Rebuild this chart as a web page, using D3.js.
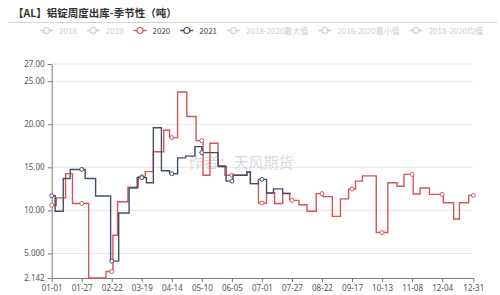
<!DOCTYPE html>
<html>
<head>
<meta charset="utf-8">
<script src="https://cdn.jsdelivr.net/npm/d3@7"></script>
<style>
    body { margin: 0; background: #fff; }
    svg { display: block; font-family: "Noto Sans CJK SC", "Noto Sans", sans-serif; }
</style>
</head>
<body>
<svg id="drawing_region"></svg>
<script>
// 凡例
const legendNames = ['2018', '2019', '2020', '2021', '2018-2020最大值', '2018-2020最小值', '2018-2020均值'];
const legendActive = ['2020', '2021'];

// y軸目盛り
const yTicks = [2.142, 5, 10, 15, 20, 25, 27];

// 2020年: 値が変わる日付とその値 (週次, ステップ)
const dates2020 = ['01-01', '01-05', '01-13', '01-19', '02-02', '02-17', '02-23', '02-27',
    '03-07', '03-16', '03-22', '03-29', '04-07', '04-12', '04-19', '04-27',
    '05-05', '05-11', '05-17', '05-24', '05-30', '06-18', '06-21', '06-28',
    '07-05', '07-12', '07-19', '07-25', '08-02', '08-09', '08-17', '08-23', '08-31',
    '09-07', '09-14', '09-20', '09-26', '10-08', '10-18', '10-26',
    '11-01', '11-09', '11-15', '11-23', '12-05', '12-14', '12-19', '12-27', '12-31'];
const values2020 = [10.6, 11.45, 14.27, 10.8, 2.142, 2.9, 7.1, 11.0,
    12.7, 13.9, 14.5, 16.8, 19.3, 18.45, 23.75, 20.9,
    18.1, 14.07, 17.8, 15.2, 14.07, 14.45, 13.1, 10.85,
    12.05, 10.8, 12.0, 11.16, 10.65, 9.9, 11.94, 11.6, 9.3,
    11.33, 12.47, 13.4, 14.0, 7.42, 13.2, 12.8,
    14.18, 11.9, 12.6, 11.86, 10.88, 9.0, 10.88, 11.74, 11.74];

// 2021年
const dates2021 = ['01-01', '01-04', '01-11', '01-17', '01-30', '02-08', '02-21', '02-28',
    '03-08', '03-15', '03-23', '03-29', '04-05', '04-12', '04-19', '04-26',
    '05-04', '05-10', '05-24', '05-31', '06-06', '06-18', '06-21', '06-28',
    '07-05', '07-11', '07-19', '07-26'];
const values2021 = [11.7, 9.9, 13.7, 14.75, 13.7, 11.66, 4.1, 9.7,
    12.6, 13.8, 13.2, 19.6, 14.6, 14.25, 16.1, 16.3,
    17.4, 16.7, 15.1, 13.4, 14.07, 14.45, 13.1, 13.6,
    12.0, 12.5, 11.94, 11.94];

const colors = {'2020': '#d65555', '2021': '#3f5166'};
const inactive = '#cccccc';

const width = 500, height = 295;
const svg = d3.select('#drawing_region').attr('width', width).attr('height', height);

// カテゴリ (閏年の日付 MM-DD)
const days = d3.timeDay.range(new Date(2020, 0, 1), new Date(2021, 0, 1)).map(d3.timeFormat('%m-%d'));

const xscale = d3.scalePoint().domain(days).range([51.7, 473.3]);
const yscale = d3.scaleLinear().domain([2.142, 27]).range([278, 64]);

// タイトル
svg.append('text')
    .attr('x', 13).attr('y', 17)
    .attr('font-size', 10.5).attr('font-weight', 'bold').attr('fill', '#333')
    .text('【AL】铝锭周度出库-季节性（吨）');
svg.append('line')
    .attr('x1', 8).attr('x2', 497).attr('y1', 22.5).attr('y2', 22.5)
    .attr('stroke', '#d4d4d4');

// 凡例
let lx = 40;
legendNames.forEach(name => {
    const on = legendActive.includes(name);
    const c = on ? colors[name] : inactive;
    const g = svg.append('g').attr('transform', `translate(${lx}, 30.5)`);
    g.append('line').attr('x1', 0).attr('x2', 13).attr('stroke', c).attr('stroke-width', 1.5);
    g.append('circle').attr('cx', 6.5).attr('r', 3).attr('fill', '#fff').attr('stroke', c).attr('stroke-width', 1.2);
    const t = g.append('text').attr('x', 19).attr('y', 3)
        .attr('font-size', 8).attr('fill', on ? '#444' : inactive).text(name);
    lx += 19 + t.node().getComputedTextLength() + 10;
});

// 水平グリッド線
svg.append('g').selectAll('line')
    .data(yTicks.filter(d => d !== 2.142))
    .join('line')
    .attr('x1', 51.7).attr('x2', 473.3)
    .attr('y1', d => yscale(d)).attr('y2', d => yscale(d))
    .attr('stroke', '#e6e6e6');

// 透かし
svg.append('text')
    .attr('x', 241).attr('y', 168).attr('text-anchor', 'middle')
    .attr('font-size', 15).attr('fill', '#b8bdc6').attr('opacity', 0.55)
    .text('作者：天风期货');

// 軸
const xTicks = days.filter((d, i) => i % 26 === 0 && i < 364).concat(['12-31']);
const xaxis = d3.axisBottom(xscale).tickValues(xTicks).tickSize(4).tickSizeOuter(0);
const yaxis = d3.axisLeft(yscale).tickValues(yTicks).tickFormat(d3.format('.4r')).tickSize(4).tickSizeOuter(0);

const xg = svg.append('g').attr('transform', 'translate(0, 278)').call(xaxis);
const yg = svg.append('g').attr('transform', 'translate(51.7, 0)').call(yaxis);
[xg, yg].forEach(g => {
    g.selectAll('path, line').attr('stroke', '#777');
    g.selectAll('text').attr('fill', '#555').attr('font-size', 8)
        .attr('font-family', '"Noto Sans", sans-serif');
});

// 折れ線 (ステップ)
const series = [
    {name: '2020', dates: dates2020, values: values2020},
    {name: '2021', dates: dates2021, values: values2021}
];

const line = d3.line()
    .x(d => xscale(d.date))
    .y(d => yscale(d.value))
    .curve(d3.curveStepAfter);

series.forEach(s => {
    const pts = s.dates.map((d, i) => ({date: d, value: s.values[i]}));
    svg.append('path')
        .attr('d', line(pts))
        .attr('fill', 'none')
        .attr('stroke', colors[s.name])
        .attr('stroke-width', 1.4);

    // ラベル位置の日付に小さな丸
    const idx = s.dates.map(d => days.indexOf(d));
    const last = idx[idx.length - 1];
    const marks = xTicks
        .filter(d => days.indexOf(d) <= last)
        .map(d => {
            const k = d3.bisectRight(idx, days.indexOf(d)) - 1;
            return {date: d, value: s.values[k]};
        });
    svg.append('g').selectAll('circle')
        .data(marks)
        .join('circle')
        .attr('cx', d => xscale(d.date))
        .attr('cy', d => yscale(d.value))
        .attr('r', 2)
        .attr('fill', '#fff')
        .attr('stroke', colors[s.name])
        .attr('stroke-width', 1);
});
</script>
</body>
</html>
